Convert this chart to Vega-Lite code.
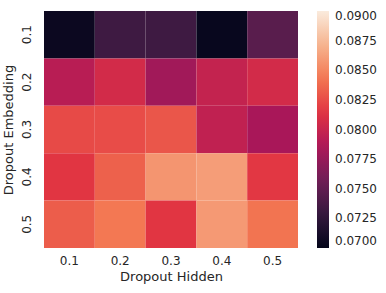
{
  "$schema": "https://vega.github.io/schema/vega-lite/v6.json",
  "autosize": "none",
  "padding": {"left": 44, "top": 11, "right": 88, "bottom": 45},
  "width": 254,
  "height": 237,
  "background": "white",
  "config": {
    "font": "DejaVu Sans",
    "view": {"stroke": null},
    "axis": {"labelColor": "#262626", "titleColor": "#262626", "labelFontSize": 12, "titleFontSize": 13, "titleFontWeight": "normal", "domain": false, "ticks": false, "grid": false}
  },
  "data": {"values": [
    {"h": "0.1", "e": "0.1", "v": 0.0705},
    {"h": "0.2", "e": "0.1", "v": 0.0733},
    {"h": "0.3", "e": "0.1", "v": 0.0733},
    {"h": "0.4", "e": "0.1", "v": 0.0703},
    {"h": "0.5", "e": "0.1", "v": 0.0746},
    {"h": "0.1", "e": "0.2", "v": 0.0792},
    {"h": "0.2", "e": "0.2", "v": 0.0806},
    {"h": "0.3", "e": "0.2", "v": 0.0780},
    {"h": "0.4", "e": "0.2", "v": 0.0798},
    {"h": "0.5", "e": "0.2", "v": 0.0806},
    {"h": "0.1", "e": "0.3", "v": 0.0824},
    {"h": "0.2", "e": "0.3", "v": 0.0825},
    {"h": "0.3", "e": "0.3", "v": 0.0829},
    {"h": "0.4", "e": "0.3", "v": 0.0796},
    {"h": "0.5", "e": "0.3", "v": 0.0784},
    {"h": "0.1", "e": "0.4", "v": 0.0815},
    {"h": "0.2", "e": "0.4", "v": 0.0834},
    {"h": "0.3", "e": "0.4", "v": 0.0857},
    {"h": "0.4", "e": "0.4", "v": 0.0861},
    {"h": "0.5", "e": "0.4", "v": 0.0816},
    {"h": "0.1", "e": "0.5", "v": 0.0832},
    {"h": "0.2", "e": "0.5", "v": 0.0844},
    {"h": "0.3", "e": "0.5", "v": 0.0815},
    {"h": "0.4", "e": "0.5", "v": 0.0859},
    {"h": "0.5", "e": "0.5", "v": 0.0842}
  ]},
  "mark": {"type": "rect", "strokeWidth": 0},
  "encoding": {
    "x": {"field": "h", "type": "ordinal", "title": "Dropout Hidden", "scale": {"paddingInner": 0, "paddingOuter": 0},
          "axis": {"labelAngle": 0, "labelPadding": 7, "titlePadding": 4}},
    "y": {"field": "e", "type": "ordinal", "title": "Dropout Embedding", "scale": {"paddingInner": 0, "paddingOuter": 0},
          "axis": {"labelAngle": -90, "labelAlign": "center", "labelBaseline": "bottom", "labelPadding": 11, "titlePadding": 5}},
    "color": {"field": "v", "type": "quantitative", "title": null,
      "scale": {"domain": [0.07, 0.09], "range": ["#03051a", "#35193e", "#701f57", "#ad1759", "#e13342", "#f37651", "#f6b48f", "#faebdd"], "interpolate": "rgb"},
      "legend": {"gradientLength": 237, "gradientThickness": 12, "offset": 19, "values": [0.07, 0.0725, 0.075, 0.0775, 0.08, 0.0825, 0.085, 0.0875, 0.09], "format": ".4f", "labelFontSize": 12, "labelColor": "#262626", "gradientStrokeWidth": 0, "labelOffset": 6, "padding": 0}
    }
  }
}
